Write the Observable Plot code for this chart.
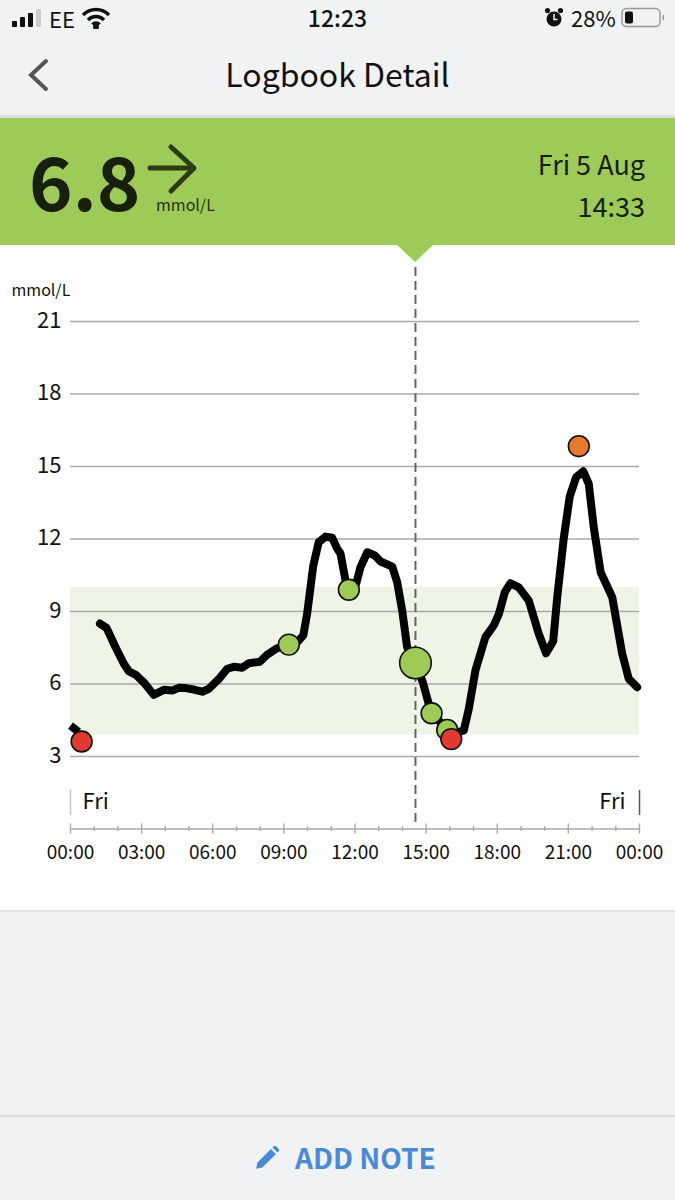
<!DOCTYPE html>
<html>
<head>
<meta charset="utf-8">
<script src="https://cdn.jsdelivr.net/npm/d3@7"></script>
<script src="https://cdn.jsdelivr.net/npm/@observablehq/plot@0.6"></script>
<style>
html,body{margin:0;padding:0;background:#f1f2f4;}
body{width:675px;height:1200px;position:relative;overflow:hidden;font-family:"Noto Sans CJK JP","Noto Sans",sans-serif;color:#111;}
.t{position:absolute;white-space:nowrap;line-height:1;}
#chart{position:absolute;left:0;top:245px;width:675px;height:665px;background:#fff;}
#chart svg{display:block;}
</style>
</head>
<body>
<!-- status bar -->
<svg class="t" style="left:11px;top:9px" width="30" height="18"><rect x="1" y="12" width="5" height="6" rx="1" fill="#111"/><rect x="9" y="8" width="5" height="10" rx="1" fill="#111"/><rect x="17" y="4" width="5" height="14" rx="1" fill="#111"/><rect x="25" y="0" width="5" height="18" rx="1" fill="#ccc"/></svg>
<div class="t" style="left:49px;top:7px;font-size:22px;">EE</div>
<svg class="t" style="left:81px;top:7px" width="30" height="22" viewBox="0 0 30 22" fill="none" stroke="#111" stroke-width="3.4" stroke-linecap="butt"><path d="M2 8a18 18 0 0 1 26 0"/><path d="M7 13a11 11 0 0 1 16 0"/><path d="M11.500 17.500a5 5 0 0 1 7 0"/><circle cx="15" cy="20" r="1.200" fill="#111"/></svg>
<div class="t" style="left:0;width:675px;text-align:center;top:6px;font-size:23px;font-weight:500;">12:23</div>
<svg class="t" style="left:544px;top:7px" width="20" height="22" viewBox="0 0 20 22"><circle cx="10" cy="12" r="7.500" fill="#111"/><circle cx="3.500" cy="3.500" r="2.600" fill="#111"/><circle cx="16.500" cy="3.500" r="2.600" fill="#111"/><path d="M10 7v5.500h3.500" stroke="#f1f2f4" stroke-width="1.500" fill="none"/></svg>
<div class="t" style="left:571px;top:6px;font-size:22px;">28%</div>
<svg class="t" style="left:621px;top:7px" width="46" height="22"><rect x="1" y="1.500" width="38" height="18" rx="4.500" fill="none" stroke="#999" stroke-width="1.500"/><rect x="4" y="4.500" width="8" height="12" rx="2" fill="#111"/><rect x="41.500" y="8" width="1.500" height="5" fill="#999"/></svg>
<!-- nav -->
<svg class="t" style="left:26px;top:58px" width="26" height="34" fill="none" stroke="#555" stroke-width="4" stroke-linecap="round"><path d="M20 3L5 17L20 31"/></svg>
<div class="t" style="left:0;width:675px;text-align:center;top:57px;font-size:32px;">Logbook Detail</div>
<div class="t" style="left:0;top:115px;width:675px;height:3px;background:#dcdcdc;"></div>
<!-- green reading band -->
<div class="t" style="left:0;top:118px;width:675px;height:127px;background:#9ecb57;"></div>
<div class="t" style="left:29px;top:142px;font-size:74px;font-weight:700;color:#17200c;">6.8</div>
<svg class="t" style="left:145px;top:143px" width="55" height="54" fill="none" stroke="#2c3b12" stroke-width="5" stroke-linecap="round" stroke-linejoin="round"><path d="M5 25H48"/><path d="M26 4L49 25L26 48"/></svg>
<div class="t" style="left:156px;top:196px;font-size:16px;color:#26330f;">mmol/L</div>
<div class="t" style="right:30px;top:150px;font-size:27px;color:#17200c;">Fri 5 Aug</div>
<div class="t" style="right:30px;top:192px;font-size:27px;color:#17200c;">14:33</div>

<div id="chart"></div>
<!-- pointer under the band -->
<div class="t" style="left:397px;top:245px;width:36px;height:17px;background:#9ecb57;clip-path:polygon(0 0,100% 0,50% 100%);"></div>
<!-- footer -->
<div class="t" style="left:0;top:910px;width:675px;height:2px;background:#e3e3e3;"></div>
<div class="t" style="left:0;top:1115px;width:675px;height:2px;background:#dcdcdc;"></div>
<svg class="t" style="left:254px;top:1145px" width="26" height="26" viewBox="0 0 24 24"><path fill="#4a88d8" d="M2 22l1.200-5.800L15.600 3.800l4.600 4.600L7.800 20.800zM17 2.400l1.200-1.200a1.500 1.500 0 0 1 2.100 0l2.500 2.500a1.500 1.500 0 0 1 0 2.100L21.600 7z"/></svg>
<div class="t" style="left:295px;top:1143px;font-size:28px;font-weight:700;color:#4a88d8;">ADD NOTE</div>

<script>
const earlyHours = [0, 0.34];
const earlyValues = [4.28, 4.02];
const mainHours = [1.24,1.52,1.90,2.25,2.46,2.78,3.09,3.51,3.94,4.29,4.57,4.85,5.20,5.56,5.83,6.26,6.61,6.89,7.24,7.52,7.99,8.30,8.72,9.17,9.56,9.82,9.98,10.24,10.47,10.76,11.04,11.25,11.39,11.60,11.74,12.05,12.23,12.52,12.84,13.08,13.57,13.78,13.99,14.20,14.55,14.86,15.11,15.23,15.65,15.89,16.06,16.59,16.80,17.08,17.50,17.85,18.07,18.32,18.56,18.91,19.33,19.75,20.06,20.36,20.53,20.81,21.06,21.33,21.63,21.86,22.07,22.36,22.85,23.27,23.55,23.90];
const mainValues = [8.50,8.32,7.52,6.84,6.53,6.36,6.07,5.55,5.76,5.73,5.84,5.83,5.77,5.68,5.80,6.21,6.63,6.71,6.67,6.86,6.92,7.22,7.48,7.63,7.73,8.01,8.90,10.90,11.87,12.10,12.05,11.60,11.39,10.28,9.90,10.15,10.83,11.45,11.32,11.07,10.86,10.21,9.04,7.52,6.86,6.07,5.18,4.79,4.37,4.10,3.90,4.08,4.97,6.56,7.94,8.42,8.90,9.80,10.17,10.00,9.45,8.08,7.27,7.77,9.59,12.07,13.77,14.56,14.80,14.28,12.49,10.63,9.59,7.25,6.21,5.87];
const greenHours = [9.21, 11.74, 15.23, 15.89];
const greenValues = [7.63, 9.90, 4.79, 4.10];
const currentHour = [14.55];
const currentValue = [6.87];
const redHours = [0.47, 16.06];
const redValues = [3.62, 3.72];
const orangeHours = [21.44];
const orangeValues = [15.84];
const yTicks = [3, 6, 9, 12, 15, 18, 21];
const majorHours = [0, 3, 6, 9, 12, 15, 18, 21, 24];
const majorLabels = ["00:00","03:00","06:00","09:00","12:00","15:00","18:00","21:00","00:00"];
const minorHours = [1,2,4,5,7,8,10,11,13,14,16,17,19,20,22,23];
const targetRange = {low: 3.9, high: 10};
const dayLabel = "Fri";

const pairs = (xs, ys) => xs.map((x, i) => ({x, y: ys[i]}));
const gridColor = "#aaaaaa", green = "#9ecb57", red = "#e03a32", orange = "#e57a2b";
const dots = (xs, ys, r, fill) => Plot.dot(pairs(xs, ys), {x: "x", y: "y", r, fill, stroke: "#111", strokeWidth: 1.6});

const chart = Plot.plot({
  width: 675,
  height: 665,
  marginLeft: 70,
  marginRight: 36,
  marginTop: 3.5,
  marginBottom: 81.5,
  x: {domain: [0, 24]},
  y: {domain: [0, 24]},
  style: {fontFamily: '"Noto Sans CJK JP","Noto Sans",sans-serif', background: "transparent", color: "#111"},
  marks: [
    Plot.rect([targetRange], {x1: 0, x2: 24, y1: "low", y2: "high", fill: "#eef4e6"}),
    Plot.ruleY(yTicks, {x1: 0, x2: 24, stroke: gridColor, strokeWidth: 1.4}),
    Plot.axisY({ticks: yTicks, tickSize: 0, tickPadding: 9, fontSize: 22, dy: -1, label: null, anchor: "left", fill: "#111"}),
    Plot.axisX({ticks: majorHours, tickSize: 0, tickPadding: 16, fontSize: 19, label: null, anchor: "bottom", fill: "#111",
      tickFormat: h => majorLabels[majorHours.indexOf(h)]}),
    Plot.text(["mmol/L"], {frameAnchor: "top-left", dx: -59, dy: 35.5, fontSize: 16, textAnchor: "start", fill: "#111"}),
    // day markers
    Plot.ruleX([0], {y1: 0.56, y2: 1.6, stroke: "#c4c4c4", strokeWidth: 1.5}),
    Plot.ruleX([24], {y1: 0.56, y2: 1.6, stroke: "#555", strokeWidth: 1.5}),
    Plot.text([dayLabel], {x: 0, y: 1.1, dx: 12, textAnchor: "start", fontSize: 22, fill: "#111"}),
    Plot.text([dayLabel], {x: 24, y: 1.1, dx: -14, textAnchor: "end", fontSize: 22, fill: "#111"}),
    // time axis
    Plot.ruleY([0], {x1: 0, x2: 24, stroke: gridColor, strokeWidth: 1.4}),
    Plot.ruleX(minorHours, {y1: -0.1, y2: 0.1, stroke: gridColor, strokeWidth: 1.4}),
    Plot.ruleX(majorHours, {y1: -0.21, y2: 0.21, stroke: gridColor, strokeWidth: 1.4}),
    // selected-reading cursor
    Plot.ruleX(currentHour, {y1: 0.27, y2: 23.44, stroke: "#666", strokeWidth: 2, strokeDasharray: "9,5"}),
    // glucose trace
    Plot.line(pairs(earlyHours, earlyValues), {x: "x", y: "y", stroke: "#000", strokeWidth: 8, strokeLinecap: "butt"}),
    Plot.line(pairs(mainHours, mainValues), {x: "x", y: "y", stroke: "#000", strokeWidth: 8, strokeLinejoin: "round", strokeLinecap: "round"}),
    dots(greenHours, greenValues, 10.4, green),
    dots(currentHour, currentValue, 15.8, green),
    dots(redHours, redValues, 10.4, red),
    dots(orangeHours, orangeValues, 10.4, orange)
  ]
});
document.getElementById("chart").appendChild(chart);
</script>
</body>
</html>
